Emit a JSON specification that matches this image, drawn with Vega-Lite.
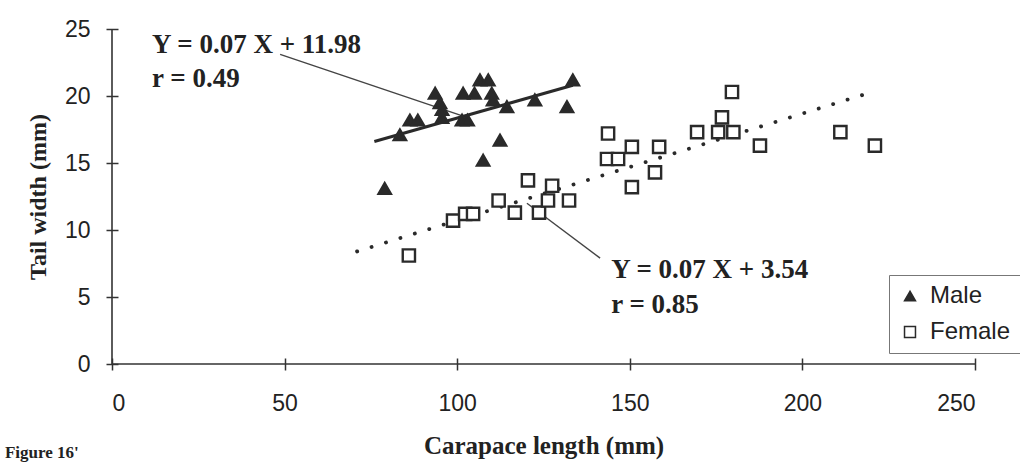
{
  "$schema": "https://vega.github.io/schema/vega-lite/v6.json",
  "width": 863,
  "height": 335,
  "autosize": "none",
  "padding": {"left": 112, "top": 29, "right": 45, "bottom": 101},
  "background": "white",
  "config": {
    "view": {"stroke": null},
    "axis": {
      "grid": false,
      "domain": false,
      "offset": -6,
      "tickSize": 12,
      "tickColor": "#333",
      "tickWidth": 1.5,
      "labelFont": "Liberation Sans",
      "labelFontSize": 23,
      "labelColor": "#222",
      "titleFont": "Liberation Serif",
      "titleFontWeight": "bold",
      "titleColor": "#222"
    }
  },
  "datasets": {
    "crayfish": [
      {"sex": "Male", "carapace": 79, "tail": 13.1},
      {"sex": "Male", "carapace": 83.4, "tail": 17.1},
      {"sex": "Male", "carapace": 86.3, "tail": 18.2},
      {"sex": "Male", "carapace": 88.6, "tail": 18.2},
      {"sex": "Male", "carapace": 93.6, "tail": 20.2},
      {"sex": "Male", "carapace": 95, "tail": 19.5},
      {"sex": "Male", "carapace": 95.6, "tail": 19.0},
      {"sex": "Male", "carapace": 95.6, "tail": 18.4},
      {"sex": "Male", "carapace": 101.7, "tail": 20.2},
      {"sex": "Male", "carapace": 101.4, "tail": 18.2},
      {"sex": "Male", "carapace": 103, "tail": 18.2},
      {"sex": "Male", "carapace": 106.6, "tail": 21.2},
      {"sex": "Male", "carapace": 109, "tail": 21.2},
      {"sex": "Male", "carapace": 105, "tail": 20.2},
      {"sex": "Male", "carapace": 110, "tail": 20.2},
      {"sex": "Male", "carapace": 110.4, "tail": 19.7},
      {"sex": "Male", "carapace": 114.4, "tail": 19.2},
      {"sex": "Male", "carapace": 112.4, "tail": 16.7},
      {"sex": "Male", "carapace": 107.5, "tail": 15.2},
      {"sex": "Male", "carapace": 122.5, "tail": 19.7},
      {"sex": "Male", "carapace": 131.8, "tail": 19.2},
      {"sex": "Male", "carapace": 133.5, "tail": 21.2},
      {"sex": "Female", "carapace": 86, "tail": 8.1},
      {"sex": "Female", "carapace": 98.8, "tail": 10.7},
      {"sex": "Female", "carapace": 102.3, "tail": 11.2},
      {"sex": "Female", "carapace": 104.6, "tail": 11.2},
      {"sex": "Female", "carapace": 112, "tail": 12.2},
      {"sex": "Female", "carapace": 116.7, "tail": 11.3},
      {"sex": "Female", "carapace": 120.5, "tail": 13.7},
      {"sex": "Female", "carapace": 123.7, "tail": 11.3},
      {"sex": "Female", "carapace": 126.3, "tail": 12.2},
      {"sex": "Female", "carapace": 127.5, "tail": 13.3},
      {"sex": "Female", "carapace": 132.4, "tail": 12.2},
      {"sex": "Female", "carapace": 143.7, "tail": 17.2},
      {"sex": "Female", "carapace": 143.4, "tail": 15.3},
      {"sex": "Female", "carapace": 146.6, "tail": 15.3},
      {"sex": "Female", "carapace": 150.6, "tail": 16.2},
      {"sex": "Female", "carapace": 150.6, "tail": 13.2},
      {"sex": "Female", "carapace": 157.3, "tail": 14.3},
      {"sex": "Female", "carapace": 158.5, "tail": 16.2},
      {"sex": "Female", "carapace": 169.5, "tail": 17.3},
      {"sex": "Female", "carapace": 175.6, "tail": 17.3},
      {"sex": "Female", "carapace": 176.7, "tail": 18.4},
      {"sex": "Female", "carapace": 180, "tail": 17.3},
      {"sex": "Female", "carapace": 179.6, "tail": 20.3},
      {"sex": "Female", "carapace": 187.7, "tail": 16.3},
      {"sex": "Female", "carapace": 211, "tail": 17.3},
      {"sex": "Female", "carapace": 221, "tail": 16.3}
    ],
    "fits": [
      {"sex": "Male", "carapace": 76, "tail": 16.6},
      {"sex": "Male", "carapace": 133.5, "tail": 20.8},
      {"sex": "Female", "carapace": 71, "tail": 8.4},
      {"sex": "Female", "carapace": 219, "tail": 20.2}
    ],
    "leaders": [
      {"x1": 48.7, "y1": 23.1, "x2": 102.8, "y2": 18.4},
      {"x1": 120.2, "y1": 12.0, "x2": 141.4, "y2": 7.9}
    ],
    "equations": [
      {"label": "Y = 0.07 X + 11.98", "carapace": 11.6, "tail": 23.8},
      {"label": "r = 0.49", "carapace": 11.6, "tail": 21.3},
      {"label": "Y = 0.07 X + 3.54", "carapace": 144.6, "tail": 7.0},
      {"label": "r = 0.85", "carapace": 144.6, "tail": 4.4}
    ]
  },
  "layer": [
    {
      "data": {"values": [{}]},
      "mark": {"type": "rule", "stroke": "#333", "strokeWidth": 1.6},
      "encoding": {
        "x": {"datum": 0, "type": "quantitative", "scale": {"domain": [0, 250], "nice": false}},
        "y": {"datum": 0, "type": "quantitative", "scale": {"domain": [0, 25], "nice": false}},
        "y2": {"datum": 25}
      }
    },
    {
      "data": {"values": [{}]},
      "mark": {"type": "rule", "stroke": "#333", "strokeWidth": 1.6},
      "encoding": {
        "x": {"datum": 0, "type": "quantitative"},
        "x2": {"datum": 250},
        "y": {"datum": 0, "type": "quantitative"}
      }
    },
    {
      "data": {"name": "leaders"},
      "mark": {"type": "rule", "stroke": "#444", "strokeWidth": 1.4},
      "encoding": {
        "x": {"field": "x1", "type": "quantitative"},
        "y": {"field": "y1", "type": "quantitative"},
        "x2": {"field": "x2"},
        "y2": {"field": "y2"}
      }
    },
    {
      "data": {"name": "fits"},
      "transform": [{"filter": "datum.sex === 'Male'"}],
      "mark": {"type": "line", "stroke": "#2a2a2a", "strokeWidth": 3},
      "encoding": {
        "x": {"field": "carapace", "type": "quantitative"},
        "y": {"field": "tail", "type": "quantitative"}
      }
    },
    {
      "data": {"name": "fits"},
      "transform": [{"filter": "datum.sex === 'Female'"}],
      "mark": {"type": "line", "stroke": "#2a2a2a", "strokeWidth": 3.8, "strokeDash": [0.1, 15], "strokeCap": "round"},
      "encoding": {
        "x": {"field": "carapace", "type": "quantitative"},
        "y": {"field": "tail", "type": "quantitative"}
      }
    },
    {
      "data": {"name": "crayfish"},
      "mark": {"type": "point", "stroke": "#2a2a2a", "strokeWidth": 2.4, "opacity": 1, "size": 150},
      "encoding": {
        "x": {
          "field": "carapace",
          "type": "quantitative",
          "axis": {
            "title": "Carapace length  (mm)",
            "values": [0, 50, 100, 150, 200, 250],
            "labelPadding": 22,
            "titlePadding": 18,
            "titleFontSize": 25
          }
        },
        "y": {
          "field": "tail",
          "type": "quantitative",
          "axis": {
            "title": "Tail width  (mm)",
            "values": [0, 5, 10, 15, 20, 25],
            "labelPadding": 16,
            "titlePadding": 14,
            "titleFontSize": 24
          }
        },
        "shape": {
          "field": "sex",
          "type": "nominal",
          "scale": {"domain": ["Male", "Female"], "range": ["triangle-up", "square"]},
          "legend": {
            "title": null,
            "orient": "none",
            "legendX": 777,
            "legendY": 246,
            "strokeColor": "#777",
            "padding": 9,
            "labelFont": "Liberation Sans",
            "labelFontSize": 24,
            "labelColor": "#222",
            "symbolSize": 120,
            "rowPadding": 12,
            "labelOffset": 8,
            "encode": {
              "symbols": {
                "update": {
                  "stroke": {"value": "#2a2a2a"},
                  "strokeWidth": {"value": 1.8}
                }
              }
            }
          }
        },
        "fill": {
          "field": "sex",
          "type": "nominal",
          "scale": {"domain": ["Male", "Female"], "range": ["#2a2a2a", "white"]},
          "legend": {
            "title": null,
            "orient": "none",
            "legendX": 777,
            "legendY": 246,
            "strokeColor": "#777",
            "padding": 9,
            "labelFont": "Liberation Sans",
            "labelFontSize": 24,
            "labelColor": "#222",
            "symbolSize": 120,
            "rowPadding": 12,
            "labelOffset": 8,
            "encode": {
              "symbols": {
                "update": {
                  "stroke": {"value": "#2a2a2a"},
                  "strokeWidth": {"value": 1.8}
                }
              }
            }
          }
        }
      }
    },
    {
      "data": {"name": "equations"},
      "mark": {"type": "text", "font": "Liberation Serif", "fontWeight": "bold", "fontSize": 27, "align": "left", "baseline": "middle", "color": "#222"},
      "encoding": {
        "x": {"field": "carapace", "type": "quantitative"},
        "y": {"field": "tail", "type": "quantitative"},
        "text": {"field": "label"}
      }
    },
    {
      "data": {"values": [{}]},
      "mark": {"type": "text", "text": "Figure 16'", "font": "Liberation Serif", "fontWeight": "bold", "fontSize": 17, "align": "left", "baseline": "alphabetic", "color": "#222"},
      "encoding": {
        "x": {"datum": -31, "type": "quantitative"},
        "y": {"datum": -7.05, "type": "quantitative"}
      }
    }
  ]
}
